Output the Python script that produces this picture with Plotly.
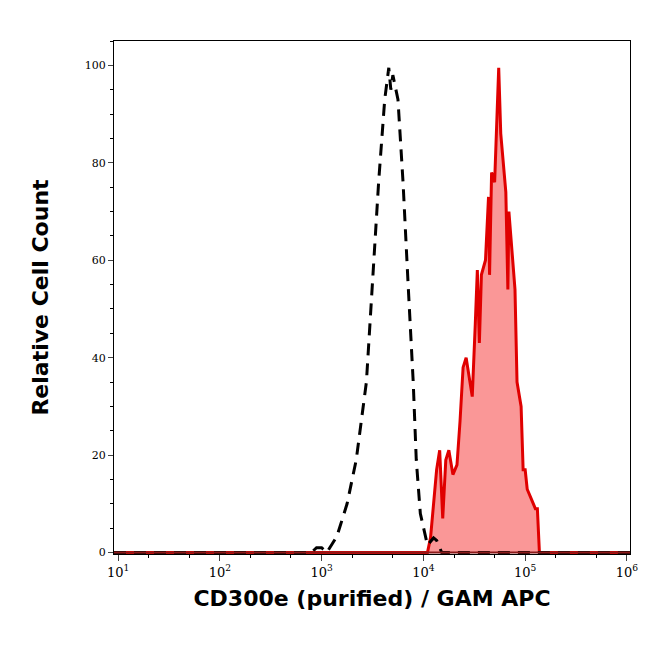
import plotly.graph_objects as go

# control (dashed) histogram: log10 intensity, relative count
ctrl_log = [0.96, 2.90, 2.95, 3.00, 3.05, 3.15, 3.25, 3.34, 3.44, 3.50, 3.56, 3.62, 3.66, 3.68, 3.70, 3.75, 3.80, 3.85, 3.90, 3.93, 3.97, 4.04, 4.10, 4.13, 4.18, 6.03]
ctrl_val = [0, 0, 1, 1, 0, 3.3, 10, 19, 35, 55, 76, 93, 99.5, 95, 98, 93, 76, 55, 35, 19, 8, 1.5, 3, 2.5, 0, 0]

# stained (red filled) histogram
stain_log = [0.96, 4.04, 4.07, 4.13, 4.16, 4.19, 4.22, 4.25, 4.29, 4.33, 4.36, 4.39, 4.42, 4.48, 4.51, 4.53, 4.55, 4.57, 4.61, 4.64, 4.65, 4.67, 4.70, 4.74, 4.76, 4.81, 4.83, 4.84, 4.90, 4.92, 4.96, 4.98, 5.00, 5.02, 5.06, 5.10, 5.12, 5.14, 6.03]
stain_val = [0, 0, 3, 17, 21, 7, 19, 21, 16, 18, 27, 38, 40, 32, 47, 58, 43, 57, 60, 73, 57, 78, 76, 99.5, 86, 74, 54, 70, 54, 35, 30, 17, 17, 13, 11, 9, 9, 0, 0]

x_tickvals = [10, 100, 1000, 10000, 100000, 1000000]
x_ticktext = ["10<sup>1</sup>", "10<sup>2</sup>", "10<sup>3</sup>", "10<sup>4</sup>", "10<sup>5</sup>", "10<sup>6</sup>"]
y_tickvals = [0, 20, 40, 60, 80, 100]

fig = go.Figure()
fig.add_trace(go.Scatter(x=[10**v for v in stain_log], y=stain_val, mode="lines",
                         fill="tozeroy", fillcolor="rgba(250,140,140,0.9)",
                         line=dict(color="#e00000", width=3)))
fig.add_trace(go.Scatter(x=[10**v for v in ctrl_log], y=ctrl_val, mode="lines",
                         line=dict(color="black", width=3, dash="12px,8px")))
fig.add_trace(go.Scatter(x=[10**0.96, 10**6.03], y=[0, 0], mode="lines",
                         line=dict(color="#8b1a1a", width=2)))

fig.update_layout(
    width=650, height=645, showlegend=False,
    paper_bgcolor="white", plot_bgcolor="white",
    margin=dict(l=106, r=28, t=33, b=99),
    font=dict(family="DejaVu Serif", color="black"),
)
fig.update_xaxes(type="log", range=[0.96, 6.03], tickvals=x_tickvals, ticktext=x_ticktext,
                 ticks="outside", ticklen=6, showgrid=False, showline=True, linecolor="black",
                 linewidth=1, mirror=True, tickfont=dict(size=13),
                 minor=dict(ticks="outside", ticklen=3, tickcolor="black", showgrid=False),
                 title=dict(text="<b>CD300e (purified) / GAM APC</b>",
                            font=dict(family="DejaVu Sans", size=22), standoff=12))
fig.update_yaxes(range=[-0.3, 105], tickvals=y_tickvals, ticks="outside", ticklen=5,
                 showgrid=False, showline=True, linecolor="black", linewidth=1, mirror=True,
                 zeroline=False, tickfont=dict(size=11),
                 minor=dict(ticks="outside", ticklen=3, tickcolor="black", dtick=5),
                 title=dict(text="<b>Relative Cell Count</b>",
                            font=dict(family="DejaVu Sans", size=22), standoff=30))
fig.write_html("out.html")
